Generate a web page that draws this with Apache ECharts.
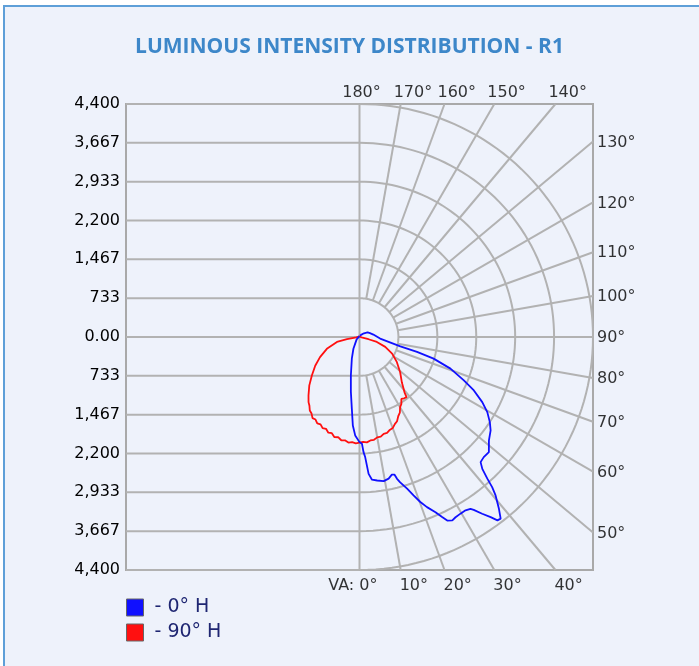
<!DOCTYPE html>
<html><head><meta charset="utf-8">
<script src="https://cdn.jsdelivr.net/npm/echarts@6/dist/echarts.min.js"></script>
<style>
html,body{margin:0;padding:0;background:#fff;overflow:hidden}
#frame{position:absolute;left:3px;top:5px;width:720px;height:700px;border:2px solid #5e9fd8;background:#eef2fb;box-sizing:border-box}
#chart{position:absolute;left:0;top:0;width:699px;height:666px}
</style></head><body>
<div id="frame"></div><div id="chart"></div>
<script>
// ---- data ----
const TITLE = 'LUMINOUS INTENSITY DISTRIBUTION - R1';
const R_MAX = 4400;
const R_STEP = 4400 / 6;
const seriesNames = ['- 0° H', '- 90° H'];

// 0° H plane (C0 right, C180 left), vertical angle (deg) / intensity (cd)
const blueC0Angles = [0, 1.3, 2, 2.7, 3.8, 5, 7, 9.5, 11.6, 13.2, 14.2, 14.8, 15.6, 17.4, 18.8, 20.2, 21.6, 23.4, 24.6, 25.5, 26.8, 28, 29.7, 31.4, 32.8, 33.4, 34.7, 36, 36.9, 37.8, 39, 40.6, 41.4, 42, 42.9, 44, 45.9, 48.3, 51.3, 54.5, 56.8, 59.5, 62, 64.9, 67.4, 70.8, 73.7, 75.4, 77, 85.6, 90, 100, 110, 120, 130, 145, 160, 180];
const blueC0Values = [1985, 2015, 2175, 2270, 2590, 2705, 2730, 2760, 2730, 2670, 2680, 2770, 2850, 3000, 3160, 3320, 3455, 3605, 3740, 3840, 3880, 3855, 3840, 3835, 3860, 3910, 4060, 4205, 4330, 4340, 4175, 3940, 3780, 3600, 3400, 3285, 3260, 3265, 3125, 3035, 2935, 2795, 2620, 2380, 2130, 1815, 1455, 1120, 790, 390, 340, 265, 210, 175, 110, 50, 25, 15];
const blueC180Angles = [0, 2.5, 4.3, 6.1, 8.9, 12.7, 19.4, 27.3, 33, 50, 90, 180];
const blueC180Values = [1985, 1860, 1675, 1360, 1050, 740, 435, 250, 150, 70, 30, 15];

// 90° H plane (C90 right, C270 left)
const redC90Angles = [0, 2, 4, 6, 8, 10, 12, 14, 16, 18, 20, 22, 24, 26, 28, 30, 32, 34, 36, 38, 39, 43, 49, 56, 63, 69, 74, 76, 80, 90, 180];
const redC90Values = [1995, 1980, 1995, 1965, 1960, 1925, 1925, 1885, 1885, 1845, 1830, 1775, 1740, 1665, 1620, 1530, 1490, 1410, 1430, 1440, 1350, 1170, 1015, 850, 690, 520, 340, 175, 40, 15, 10];
const redC270Angles = [0, 2, 4, 6, 8, 10, 12, 14, 16, 18, 20, 22, 24, 26, 28, 30, 32, 34, 36, 38, 41, 46, 51, 57, 63, 70, 77.5, 80, 83, 90, 180];
const redC270Values = [1995, 2010, 1990, 2005, 1970, 1980, 1935, 1950, 1890, 1900, 1845, 1855, 1805, 1815, 1765, 1770, 1705, 1675, 1605, 1560, 1465, 1315, 1155, 995, 835, 655, 435, 240, 60, 15, 10];

// grid / tick labels
const radialAngles = [10, 20, 30, 40, 50, 60, 70, 80, 90, 100, 110, 120, 130, 140, 150, 160, 170];
const circleSteps = [1, 2, 3, 4, 5, 6];
const topLabelAngles = [180, 170, 160, 150, 140];
const rightLabelAngles = [130, 120, 110, 100, 90, 80, 70, 60, 50];
const bottomLabelAngles = [0, 10, 20, 30, 40];

// ---- helpers ----
const FONT = 'DejaVu Sans';
const rad = d => d * Math.PI / 180;
function toXY(theta, r, side) { return [side * r * Math.sin(rad(theta)), -r * Math.cos(rad(theta))]; }
function edgeR(theta) {
  const s = Math.abs(Math.sin(rad(theta))), c = Math.abs(Math.cos(rad(theta)));
  return R_MAX / Math.max(s, c);
}
function loop(la, lv, ra, rv) {
  const pts = [];
  for (let i = la.length - 1; i >= 0; i--) pts.push(toXY(la[i], lv[i], -1));
  for (let i = 0; i < ra.length; i++) pts.push(toXY(ra[i], rv[i], 1));
  return pts;
}

const gridPolys = [];
circleSteps.forEach(k => {
  const c = [];
  for (let a = 0; a <= 180; a += 2) c.push(toXY(a, k * R_STEP, 1));
  gridPolys.push(c);
});
radialAngles.forEach(a => gridPolys.push([toXY(a, R_STEP, 1), toXY(a, edgeR(a), 1)]));
for (let i = -6; i <= 6; i++) gridPolys.push([[-R_MAX, i * R_STEP], [0, i * R_STEP]]);
gridPolys.push([[0, -R_MAX], [0, R_MAX]]);

const labelStyle = { show: true, position: 'inside', fontFamily: FONT, fontSize: 16, color: '#000', verticalAlign: 'middle' };
function labelSeries(angles, lbl, special) {
  return {
    type: 'scatter', symbolSize: 0, silent: true, clip: false, z: 5,
    data: angles.map(a => {
      const item = { value: toXY(a, edgeR(a), 1), name: a + '°' };
      if (special && special[a]) item.label = special[a];
      return item;
    }),
    label: Object.assign({}, labelStyle, lbl, { formatter: p => p.name })
  };
}

const chart = echarts.init(document.getElementById('chart'), null, { renderer: 'canvas' });
chart.setOption({
  backgroundColor: 'transparent',
  animation: false,
  title: {
    text: TITLE, left: 'center', top: 37, padding: 0,
    textStyle: { color: '#3d87c9', fontSize: 21, fontWeight: 'bold', fontFamily: 'Open Sans' }
  },
  legend: {
    data: seriesNames, orient: 'vertical', left: 126, top: 598, padding: 0,
    itemWidth: 17, itemHeight: 17, itemGap: 6, icon: 'rect',
    itemStyle: { borderColor: '#666', borderWidth: 1 },
    textStyle: { fontSize: 19, color: '#1f2672', fontFamily: FONT, padding: [0, 0, 0, 6] }
  },
  grid: { left: 126, top: 104, width: 467, height: 466, show: true, borderColor: '#a9a9a9', borderWidth: 2 },
  xAxis: { type: 'value', min: -R_MAX, max: R_MAX, show: false, splitLine: { show: false } },
  yAxis: {
    type: 'value', min: -R_MAX, max: R_MAX, interval: R_STEP,
    axisLine: { show: false }, axisTick: { show: false }, splitLine: { show: false },
    axisLabel: {
      margin: 6, fontFamily: FONT, fontSize: 16, color: '#000',
      formatter: v => Math.abs(v) < 1 ? '0.00' : Math.round(Math.abs(v)).toLocaleString('en-US')
    }
  },
  series: [
    {
      type: 'lines', coordinateSystem: 'cartesian2d', polyline: true, silent: true, z: 1,
      lineStyle: { color: '#b2b2b2', width: 2, opacity: 1 },
      data: gridPolys.map(c => ({ coords: c }))
    },
    labelSeries(topLabelAngles, { align: 'left', offset: [-7, -11] }, { 180: { align: 'center', offset: [2, -11] } }),
    labelSeries(rightLabelAngles, { align: 'left', offset: [4, 1] }),
    labelSeries(bottomLabelAngles, { align: 'left', offset: [-1, 16] }, { 0: { align: 'right', offset: [18, 16], formatter: 'VA: 0°' } }),
    {
      name: seriesNames[0], type: 'line', color: '#1010ff', showSymbol: false, symbol: 'none', z: 4, clip: false,
      lineStyle: { width: 1.8, color: '#1010ff' },
      data: loop(blueC180Angles, blueC180Values, blueC0Angles, blueC0Values)
    },
    {
      name: seriesNames[1], type: 'line', color: '#ff1010', showSymbol: false, symbol: 'none', z: 3, clip: false,
      lineStyle: { width: 1.8, color: '#ff1010' },
      data: loop(redC270Angles, redC270Values, redC90Angles, redC90Values)
    }
  ]
});
</script>
</body></html>
